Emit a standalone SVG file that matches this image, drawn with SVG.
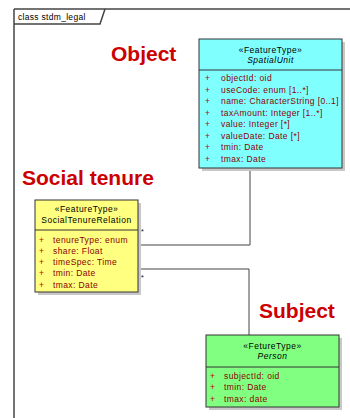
<svg xmlns="http://www.w3.org/2000/svg" width="350" height="418" viewBox="0 0 350 418">
<style>
.frame{fill:none;stroke:#444;stroke-width:1.5}
.box{stroke:#333;stroke-width:1}
.shadow{fill:#c8c8c8}
.st{font-family:"Liberation Sans",Arial,sans-serif;font-size:8.5px;letter-spacing:0.5px;fill:#000;text-anchor:middle}
.it{font-style:italic}
.pl{font-family:"Liberation Sans",Arial,sans-serif;font-size:8.5px;fill:#c00000}
.at{font-family:"Liberation Sans",Arial,sans-serif;font-size:8.5px;letter-spacing:0.4px;fill:#8b0000}
.big{font-family:"Liberation Sans",Arial,sans-serif;font-size:21px;font-weight:bold;fill:#cc0000}
.conn{fill:none;stroke:#444;stroke-width:1}
.mult{font-family:"Liberation Sans",Arial,sans-serif;font-size:7px;fill:#000}
</style>
<rect width="350" height="418" fill="#fff"/>
<g id="frame">
<line x1="14" y1="9" x2="350" y2="9" class="frame"/>
<line x1="14" y1="9" x2="14" y2="418" class="frame"/>
<path d="M14 24 H100 L105 9" class="frame" stroke-width="1"/>
<text x="18" y="20" font-family="Liberation Sans,Arial,sans-serif" font-size="8.5" letter-spacing="0.3" fill="#000">class stdm_legal</text>
</g>
<g id="labels">
<text x="111" y="61" class="big">Object</text>
<text x="22" y="185" class="big">Social tenure</text>
<text x="259" y="318" class="big">Subject</text>
</g>
<g id="connectors">
<path d="M138 245 H250 V168" class="conn"/>
<path d="M138 269 H249 V335" class="conn" stroke="#666"/>
<text x="141" y="234" class="mult">*</text>
<text x="141" y="280" class="mult">*</text>
</g>
<g id="SpatialUnit">
<rect x="202" y="42" width="143" height="129" class="shadow"/>
<rect x="199" y="39" width="143" height="129" fill="#80ffff" class="box"/>
<line x1="199" y1="70" x2="342" y2="70" class="box"/>
<text x="270.5" y="53" class="st">«FeatureType»</text>
<text x="270.5" y="63" class="st it">SpatialUnit</text>
<g class="pl"><text x="205" y="81">+</text><text x="205" y="92.5">+</text><text x="205" y="104">+</text><text x="205" y="115.5">+</text><text x="205" y="127">+</text><text x="205" y="138.5">+</text><text x="205" y="150">+</text><text x="205" y="161.5">+</text></g>
<g class="at"><text x="221" y="81">objectId:  oid</text><text x="221" y="92.5">useCode:  enum [1..*]</text><text x="221" y="104">name:  CharacterString [0..1]</text><text x="221" y="115.5">taxAmount:  Integer [1..*]</text><text x="221" y="127">value:  Integer [*]</text><text x="221" y="138.5">valueDate:  Date [*]</text><text x="221" y="150">tmin:  Date</text><text x="221" y="161.5">tmax:  Date</text></g>
</g>
<g id="SocialTenureRelation">
<rect x="38" y="203" width="103" height="92" class="shadow"/>
<rect x="35" y="200" width="103" height="92" fill="#ffff80" class="box"/>
<line x1="35" y1="230" x2="138" y2="230" class="box"/>
<text x="86.5" y="212" class="st">«FeatureType»</text>
<text x="86.5" y="223" class="st" letter-spacing="0.2">SocialTenureRelation</text>
<g class="pl"><text x="39" y="243">+</text><text x="39" y="254">+</text><text x="39" y="265">+</text><text x="39" y="276">+</text><text x="39" y="287.5">+</text></g>
<g class="at"><text x="53" y="243">tenureType:  enum</text><text x="53" y="254">share:  Float</text><text x="53" y="265">timeSpec:  Time</text><text x="53" y="276">tmin:  Date</text><text x="53" y="287.5">tmax:  Date</text></g>
</g>
<g id="Person">
<rect x="209" y="338" width="133" height="72" class="shadow"/>
<rect x="206" y="335" width="133" height="72" fill="#80ff80" class="box"/>
<line x1="206" y1="367" x2="339" y2="367" class="box"/>
<text x="272.5" y="349" class="st">«FetureType»</text>
<text x="272.5" y="359" class="st it">Person</text>
<g class="pl"><text x="210" y="379">+</text><text x="210" y="390">+</text><text x="210" y="401.5">+</text></g>
<g class="at"><text x="224" y="379">subjectId:  oid</text><text x="224" y="390">tmin:  Date</text><text x="224" y="401.5">tmax:  date</text></g>
</g>
</svg>
